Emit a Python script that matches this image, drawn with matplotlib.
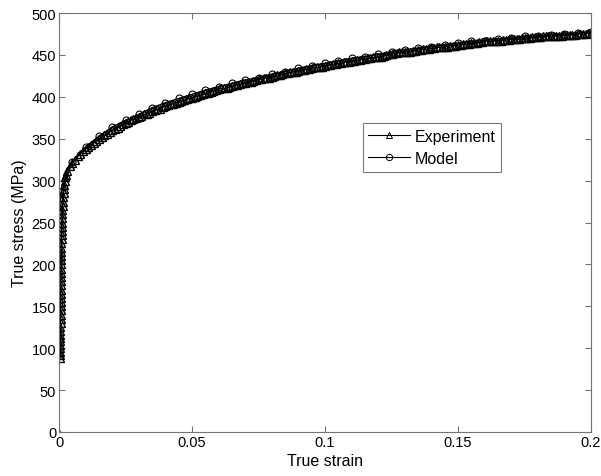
import matplotlib
matplotlib.use("Agg")
import matplotlib.pyplot as plt
import numpy as np

plt.rcParams['font.family'] = ['Liberation Sans', 'DejaVu Sans']

# ---------------- data ----------------
exp_origin_strain = [0.0]
exp_origin_stress = [0.0]

exp_elastic_strain = [0.00040, 0.00042, 0.00044, 0.00046, 0.00047, 0.00049, 0.00050, 0.00052, 0.00053, 0.00055,
                      0.00057, 0.00058, 0.00060, 0.00061, 0.00063, 0.00064, 0.00066, 0.00067, 0.00069, 0.00070,
                      0.00072, 0.00073, 0.00075, 0.00077, 0.00079, 0.00081, 0.00083, 0.00085, 0.00088, 0.00091,
                      0.00094, 0.00098, 0.00102, 0.00107, 0.00112, 0.00118, 0.00124, 0.00131, 0.00139, 0.00148,
                      0.00158, 0.00170, 0.00183, 0.00198, 0.00215, 0.00235, 0.00260]
exp_elastic_stress = [88, 92, 96, 100, 104, 108, 112, 116, 120, 125,
                      130, 135, 140, 145, 150, 155, 160, 165, 170, 175,
                      180, 185, 190, 195, 200, 205, 210, 215, 220, 225,
                      230, 235, 240, 245, 250, 255, 260, 265, 270, 275,
                      280, 285, 290, 295, 300, 304, 307]

exp_plastic_strain = [0.003, 0.004, 0.005, 0.006, 0.007, 0.008, 0.009, 0.010, 0.011, 0.012,
                      0.013, 0.014, 0.015, 0.016, 0.017, 0.018, 0.019, 0.020, 0.021, 0.022,
                      0.023, 0.024, 0.025, 0.026, 0.027, 0.028, 0.029, 0.030, 0.031, 0.032,
                      0.033, 0.034, 0.035, 0.036, 0.037, 0.038, 0.039, 0.040, 0.041, 0.042,
                      0.043, 0.044, 0.045, 0.046, 0.047, 0.048, 0.049, 0.050, 0.051, 0.052,
                      0.053, 0.054, 0.055, 0.056, 0.057, 0.058, 0.059, 0.060, 0.061, 0.062,
                      0.063, 0.064, 0.065, 0.066, 0.067, 0.068, 0.069, 0.070, 0.071, 0.072,
                      0.073, 0.074, 0.075, 0.076, 0.077, 0.078, 0.079, 0.080, 0.081, 0.082,
                      0.083, 0.084, 0.085, 0.086, 0.087, 0.088, 0.089, 0.090, 0.091, 0.092,
                      0.093, 0.094, 0.095, 0.096, 0.097, 0.098, 0.099, 0.100, 0.101, 0.102,
                      0.103, 0.104, 0.105, 0.106, 0.107, 0.108, 0.109, 0.110, 0.111, 0.112,
                      0.113, 0.114, 0.115, 0.116, 0.117, 0.118, 0.119, 0.120, 0.121, 0.122,
                      0.123, 0.124, 0.125, 0.126, 0.127, 0.128, 0.129, 0.130, 0.131, 0.132,
                      0.133, 0.134, 0.135, 0.136, 0.137, 0.138, 0.139, 0.140, 0.141, 0.142,
                      0.143, 0.144, 0.145, 0.146, 0.147, 0.148, 0.149, 0.150, 0.151, 0.152,
                      0.153, 0.154, 0.155, 0.156, 0.157, 0.158, 0.159, 0.160, 0.161, 0.162,
                      0.163, 0.164, 0.165, 0.166, 0.167, 0.168, 0.169, 0.170, 0.171, 0.172,
                      0.173, 0.174, 0.175, 0.176, 0.177, 0.178, 0.179, 0.180, 0.181, 0.182,
                      0.183, 0.184, 0.185, 0.186, 0.187, 0.188, 0.189, 0.190, 0.191, 0.192,
                      0.193, 0.194, 0.195, 0.196, 0.197, 0.198, 0.199, 0.200]
exp_plastic_stress = [311, 317, 321, 325, 329, 332, 335, 338, 340, 343,
                      345, 347, 350, 352, 354, 356, 358, 360, 362, 363,
                      365, 367, 369, 370, 372, 373, 375, 376, 377, 379,
                      380, 381, 383, 384, 385, 386, 388, 389, 390, 391,
                      392, 393, 394, 395, 396, 397, 398, 399, 400, 401,
                      402, 403, 404, 405, 406, 407, 408, 409, 410, 410,
                      411, 412, 413, 414, 414, 415, 416, 417, 418, 418,
                      419, 420, 421, 421, 422, 423, 423, 424, 425, 426,
                      426, 427, 428, 428, 429, 430, 430, 431, 432, 432,
                      433, 433, 434, 435, 435, 436, 436, 437, 438, 438,
                      439, 439, 440, 440, 441, 442, 442, 443, 443, 444,
                      444, 445, 445, 446, 446, 447, 447, 448, 448, 449,
                      450, 451, 451, 452, 452, 453, 453, 454, 454, 454,
                      455, 455, 456, 456, 457, 457, 457, 458, 458, 459,
                      459, 459, 460, 460, 461, 461, 461, 462, 462, 463,
                      463, 463, 464, 464, 464, 465, 465, 466, 466, 466,
                      466, 467, 467, 467, 468, 468, 468, 469, 469, 469,
                      469, 470, 470, 470, 470, 471, 471, 471, 471, 472,
                      472, 472, 472, 473, 473, 473, 473, 474, 474, 474,
                      474, 474, 475, 475, 475, 475, 476, 476]

model_strain = [0.000, 0.005, 0.010, 0.015, 0.020, 0.025, 0.030, 0.035, 0.040, 0.045,
                0.050, 0.055, 0.060, 0.065, 0.070, 0.075, 0.080, 0.085, 0.090, 0.095,
                0.100, 0.105, 0.110, 0.115, 0.120, 0.125, 0.130, 0.135, 0.140, 0.145,
                0.150, 0.155, 0.160, 0.165, 0.170, 0.175, 0.180, 0.185, 0.190, 0.195,
                0.200]
model_stress = [279, 322, 340, 353, 364, 372, 379, 387, 393, 398,
                403, 408, 412, 416, 420, 423, 427, 430, 434, 437,
                440, 443, 446, 448, 451, 453, 456, 458, 460, 462,
                464, 466, 467, 469, 470, 472, 473, 474, 475, 476,
                477]

x_ticks = [0, 0.05, 0.1, 0.15, 0.2]
x_ticklabels = ["0", "0.05", "0.1", "0.15", "0.2"]
y_ticks = [0, 50, 100, 150, 200, 250, 300, 350, 400, 450, 500]

# ---------------- figure ----------------
W, H = 601, 477
fig = plt.figure(figsize=(W / 100, H / 100), dpi=100)
fig.patch.set_facecolor('white')
ax = fig.add_axes([59 / W, 1 - 433 / H, 532 / W, 419 / H])

exp_curve_strain = exp_elastic_strain + exp_plastic_strain
exp_curve_stress = exp_elastic_stress + exp_plastic_stress

# experiment: isolated point at origin, then connected curve
ax.plot(exp_origin_strain, exp_origin_stress, linestyle='none', marker='^',
        markersize=5, markerfacecolor='none', markeredgecolor='0.35', markeredgewidth=0.7)
line_exp, = ax.plot(exp_curve_strain, exp_curve_stress, color='black', linewidth=1.0,
                    marker='^', markersize=5.5, markerfacecolor='none',
                    markeredgecolor='black', markeredgewidth=1.0, label='Experiment')
line_mod, = ax.plot(model_strain, model_stress, color='black', linewidth=1.0,
                    marker='o', markersize=5, markerfacecolor='none',
                    markeredgecolor='black', markeredgewidth=0.8, label='Model')

ax.set_xlim(0, 0.2)
ax.set_ylim(0, 500)
ax.set_xticks(x_ticks)
ax.set_xticklabels(x_ticklabels)
ax.set_yticks(y_ticks)

spine_col = '0.45'
for s in ax.spines.values():
    s.set_color(spine_col)
    s.set_linewidth(0.8)
ax.tick_params(direction='in', length=4, width=0.8, color=spine_col,
               labelsize=10.5, labelcolor='black', top=True, right=True, pad=2)

ax.set_xlabel('True strain', fontsize=11.5, labelpad=3)
ax.set_ylabel('True stress (MPa)', fontsize=11.5, labelpad=3)

leg = ax.legend(handles=[line_exp, line_mod], loc='upper left',
                bbox_to_anchor=(0.571, 0.737), borderaxespad=0, fontsize=11.5,
                frameon=True, fancybox=False, handlelength=2.6, handletextpad=0.3,
                borderpad=0.35, labelspacing=0.45)
leg.get_frame().set_edgecolor('0.35')
leg.get_frame().set_linewidth(0.8)
for h in leg.legend_handles:
    h.set_linewidth(0.8)
    h.set_markeredgewidth(0.7)
    h.set_markersize(4.5)

fig.savefig('out.png', dpi=100, facecolor='white')
